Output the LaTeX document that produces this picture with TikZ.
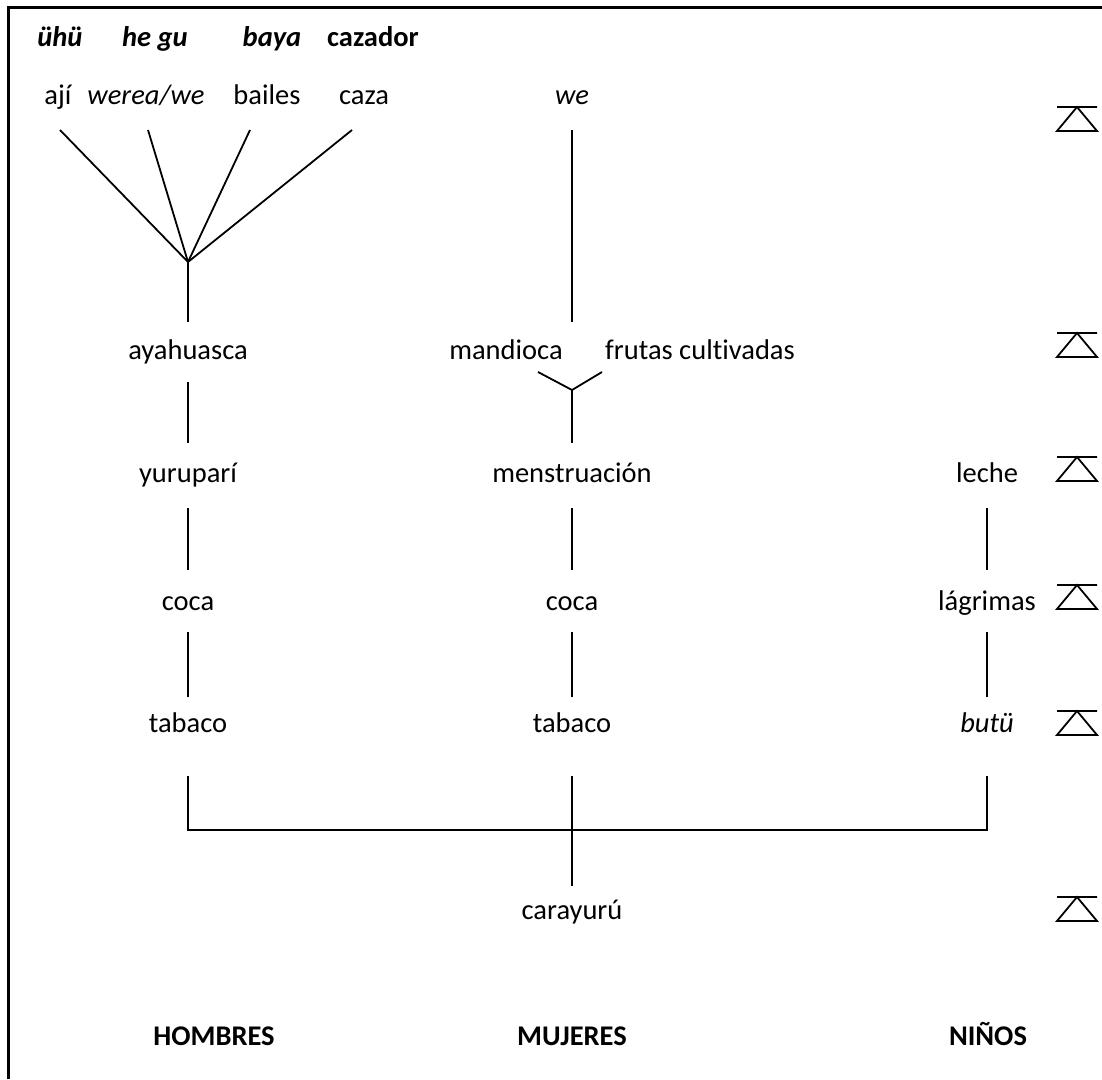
\documentclass[tikz,border=0pt]{standalone}
\usepackage{fontspec}
\setmainfont{Carlito}[Ligatures=NoCommon]
\usetikzlibrary{calc}
\begin{document}
\begin{tikzpicture}[x=1pt,y=-1pt,
  lbl/.style={font=\fontsize{28.5}{34}\selectfont, inner sep=0pt,
    text height=20pt, text depth=6pt, anchor=center},
  emph/.style={lbl, font=\fontsize{28.5}{34}\selectfont\itshape},
  hdr/.style={lbl, font=\fontsize{28.5}{34}\selectfont\bfseries\itshape},
  hdrup/.style={lbl, font=\fontsize{28.5}{34}\selectfont\bfseries},
  grp/.style={lbl, font=\fontsize{28.5}{34}\selectfont\bfseries},
  link/.style={line width=1.8pt},
  levelmark/.pic={\draw[line width=1.8pt] (-20,0) -- (20,0) (0,0) -- (-20,24) -- (20,24) -- cycle;}
]
\useasboundingbox (0,0) rectangle (1102,1079);
% frame (top and left edges)
\draw[line width=2.7pt] (8.5,1079) -- (8.5,7.5) -- (1102,7.5);

% headings
\node[hdr]   (uhu)  at (60,39)  {ühü};
\node[hdr]   (hegu) at (155,39) {he gu};
\node[hdr]   (baya) at (272,39) {baya};
\node[hdrup] (caz)  at (373,39) {cazador};

% top row
\node[lbl]  (aji)   at (58,97)  {ají};
\node[emph] (werea) at (146,97) {werea/we};
\node[lbl]  (bail)  at (267,97) {bailes};
\node[lbl]  (caza)  at (364,97) {caza};
\node[emph] (we)    at (572,97) {we};

% second row
\node[lbl] (aya)  at (188,352) {ayahuasca};
\node[lbl] (mand) at (506,352) {mandioca};
\node[lbl] (frut) at (700,352) {frutas cultivadas};
\coordinate (mf) at (572,352);

% third row
\node[lbl] (yur) at (188,475) {yuruparí};
\node[lbl] (men) at (572,475) {menstruación};
\node[lbl] (lec) at (987,475) {leche};

% fourth row
\node[lbl] (cocaH) at (188,603) {coca};
\node[lbl] (cocaM) at (572,603) {coca};
\node[lbl] (lag)   at (987,603) {lágrimas};

% fifth row
\node[lbl]  (tabH) at (188,725) {tabaco};
\node[lbl]  (tabM) at (572,725) {tabaco};
\node[emph] (butu) at (987,725) {butü};

% base
\node[lbl] (cara) at (572,912) {carayurú};

% group labels
\node[grp] (hom) at (214,1038) {HOMBRES};
\node[grp] (muj) at (572,1038) {MUJERES};
\node[grp] (nin) at (988,1038) {NIÑOS};

% fan of the men's branch
\coordinate (fan) at (188,262);
\draw[link] ($(aji.center)+(2,33)$)    -- (fan);
\draw[link] ($(werea.center)+(2,33)$)  -- (fan);
\draw[link] ($(bail.center)+(-17,33)$) -- (fan);
\draw[link] ($(caza.center)+(-12,33)$) -- (fan);
\draw[link] (fan) -- ($(aya.center)+(0,-30)$);

% women's branch
\draw[link] ($(we.center)+(0,33)$) -- ($(mf)+(0,-30)$);
\coordinate (fork) at (572,390);
\draw[link] ($(mand.center)+(32,20)$) -- (fork) -- ($(frut.center)+(-98,20)$);
\draw[link] (fork) -- ($(men.center)+(0,-32)$);

% vertical links
\draw[link] ($(aya.center)+(0,30)$) -- ($(yur.center)+(0,-32)$);
\draw[link] ($(yur.center)+(0,33)$) -- ($(cocaH.center)+(0,-33)$);
\draw[link] ($(men.center)+(0,33)$) -- ($(cocaM.center)+(0,-33)$);
\draw[link] ($(lec.center)+(0,33)$) -- ($(lag.center)+(0,-33)$);
\draw[link] ($(cocaH.center)+(0,29)$) -- ($(tabH.center)+(0,-28)$);
\draw[link] ($(cocaM.center)+(0,29)$) -- ($(tabM.center)+(0,-28)$);
\draw[link] ($(lag.center)+(0,29)$) -- ($(butu.center)+(0,-28)$);

% bracket joining the three columns
\coordinate (jn) at (572,830);
\draw[link] ($(tabH.center)+(0,51)$) -- (tabH.center |- jn) -- (butu.center |- jn) -- ($(butu.center)+(0,51)$);
\draw[link] ($(tabM.center)+(0,51)$) -- ($(cara.center)+(0,-26)$);

% level marks
\foreach \yy in {107,333,457,585,711,897}
  \pic at (1077,\yy) {levelmark};
\end{tikzpicture}
\end{document}
